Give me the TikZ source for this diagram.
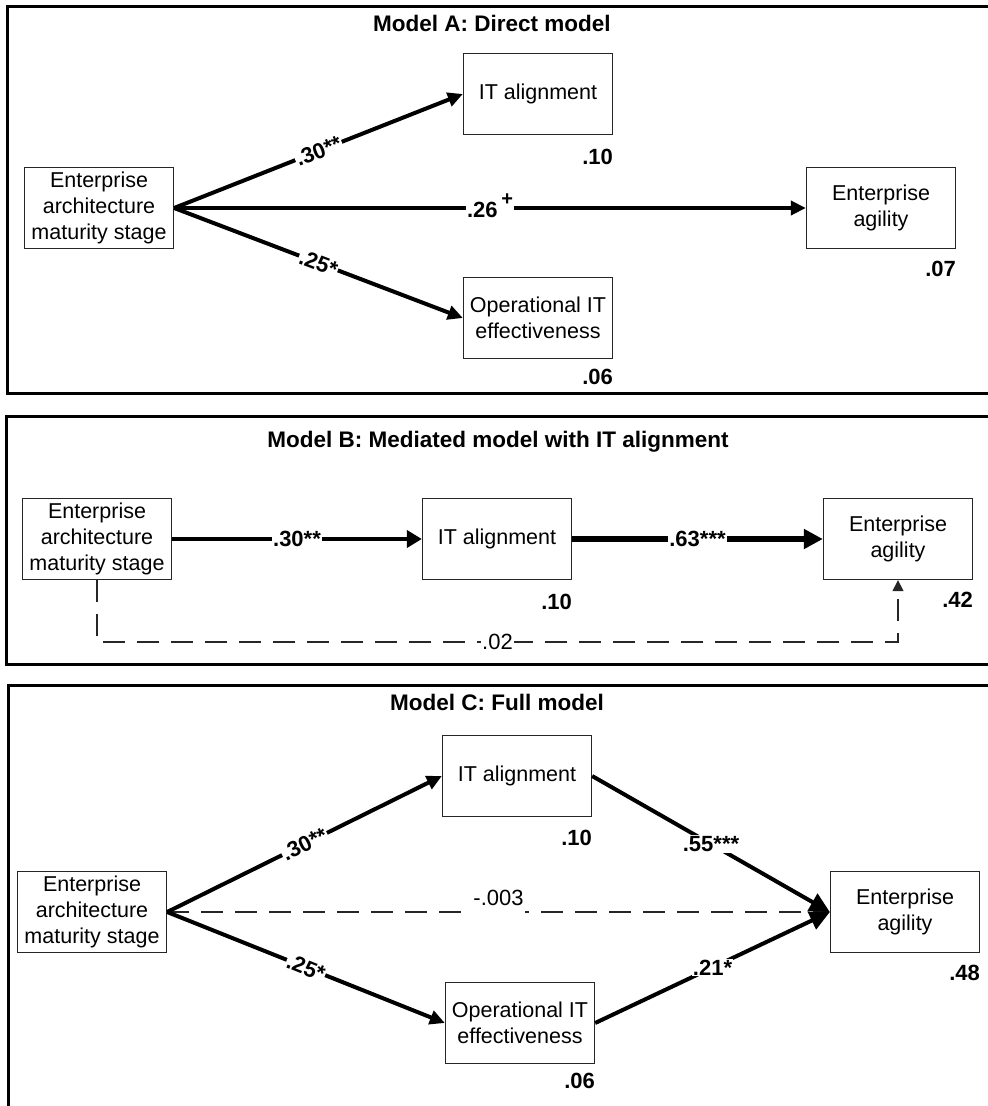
\documentclass[tikz,border=0pt]{standalone}
\usepackage{fontspec}
\setmainfont{Liberation Sans}
\usetikzlibrary{arrows.meta}
\newcommand{\boxfont}{\fontsize{21.5}{26}\selectfont}
\newcommand{\coeffont}{\fontsize{22}{26}\selectfont}
\newcommand{\titlefont}{\fontsize{22.5}{27}\selectfont\bfseries}
\tikzset{
  var/.style={draw=black!85, line width=1.3pt, minimum width=149pt, minimum height=81pt,
    align=center, inner sep=2pt, font=\boxfont},
  panel/.style={line width=3pt},
  effect/.style={line width=4pt, -{Triangle[length=15pt,width=14pt]}},
  bigtip/.style={-{Triangle[length=20pt,width=19pt]}},
  weak/.style={line width=1.3pt, draw=black!85, dash pattern=on 22pt off 12pt,
    -{Triangle[length=11pt,width=11pt]}},
  coef/.style={font=\coeffont\bfseries, fill=white, inner sep=1pt},
  coefplain/.style={font=\coeffont, fill=white, inner sep=1pt},
  rsq/.style={font=\coeffont\bfseries, anchor=east, inner sep=0pt},
}
\begin{document}
\begin{tikzpicture}[x=1pt,y=-1pt]
  \useasboundingbox (0,0) rectangle (988,1106);
  % panel frames
  \draw[panel] (7,6) rectangle (1000,393);
  \draw[panel] (6,416) rectangle (1000,664);
  \draw[panel] (8,685) rectangle (1000,1120);

  % Model A
  \node[font=\titlefont] (titleA) at (492,23) {Model A: Direct model};
  \node[var] (eaA) at (99,208) {Enterprise\\architecture\\maturity stage};
  \node[var] (itA) at (538,94) {IT alignment};
  \node[var] (opA) at (538,318) {Operational IT\\effectiveness};
  \node[var] (agA) at (881,208) {Enterprise\\agility};
  \node[rsq] (rItA) at ([yshift=-22pt]itA.south east) {.10};
  \node[rsq] (rOpA) at ([yshift=-18pt]opA.south east) {.06};
  \node[rsq] (rAgA) at ([yshift=-20pt]agA.south east) {.07};
  \draw[effect] (eaA.east) -- node[coef, sloped] {.30**} (itA.west);
  \draw[effect] (eaA.east) -- node[coef, anchor=base, yshift=-9pt]
    {.26\,\raisebox{12pt}{\fontsize{20}{20}\selectfont +}} (agA.west);
  \draw[effect] (eaA.east) -- node[coef, sloped] {.25*} (opA.west);

  % Model B
  \node[font=\titlefont] (titleB) at (498,442) {Model B: Mediated model with IT alignment};
  \node[var] (eaB) at (97,539) {Enterprise\\architecture\\maturity stage};
  \node[var] (itB) at (497,539) {IT alignment};
  \node[var] (agB) at (898,539) {Enterprise\\agility};
  \node[rsq] (rItB) at ([yshift=-22pt]itB.south east) {.10};
  \node[rsq] (rAgB) at ([yshift=-20pt]agB.south east) {.42};
  \draw[effect, -{Triangle[length=15pt,width=17pt]}] (eaB) -- node[coef] {.30**} (itB);
  \draw[effect, line width=6pt, -{Triangle[length=19pt,width=19pt]}] (itB) -- node[coef] {.63***} (agB);
  \coordinate (dashL) at (97,642);
  \coordinate (dashR) at (898,642);
  \draw[weak] (eaB.south) -- (dashL) -- node[coefplain] {.02} (dashR) -- (agB.south);

  % Model C
  \node[font=\titlefont] (titleC) at (497,702) {Model C: Full model};
  \node[var] (eaC) at (92,912) {Enterprise\\architecture\\maturity stage};
  \node[var] (itC) at (517,776) {IT alignment};
  \node[var] (opC) at (520,1023) {Operational IT\\effectiveness};
  \node[var] (agC) at (905,912) {Enterprise\\agility};
  \node[rsq] (rItC) at ([yshift=-21pt]itC.south east) {.10};
  \node[rsq] (rOpC) at ([yshift=-17pt]opC.south east) {.06};
  \node[rsq] (rAgC) at ([yshift=-20pt]agC.south east) {.48};
  \draw[weak] (eaC.east) -- node[coefplain, anchor=base, yshift=6.5pt, text depth=9pt] {-.003} (agC.west);
  \draw[effect] (eaC.east) -- node[coef, sloped] {.30**} (itC.west);
  \draw[effect] (eaC.east) -- node[coef, sloped] {.25*} (opC.west);
  \draw[effect, bigtip] (itC.east) -- node[coef] {.55***} (agC.west);
  \draw[effect, bigtip] (opC.east) -- node[coef] {.21*} (agC.west);
\end{tikzpicture}
\end{document}
